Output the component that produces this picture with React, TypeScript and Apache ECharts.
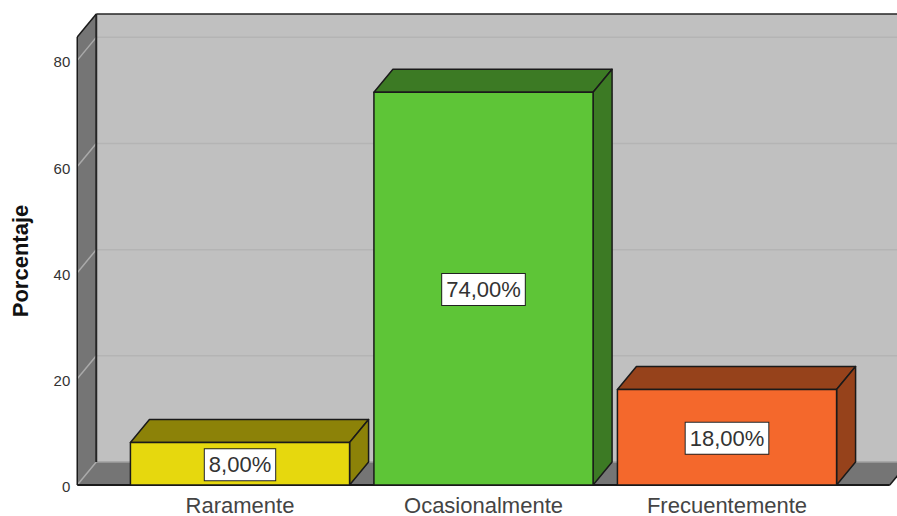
import React, { useEffect, useRef } from "react";
import * as echarts from "echarts";

const categories = ["Raramente", "Ocasionalmente", "Frecuentemente"];
const percentages = [8, 74, 18];
const frontColors = ["#e6d80e", "#5ec537", "#f4682c"];
const sideColors = ["#8c8208", "#3c7a24", "#96421b"];
const yTicks = [0, 20, 40, 60, 80];
const yMax = 84.4;

// Oblique projection offset of the back plane relative to the front plane.
const DEPTH_X = 19;
const DEPTH_Y = -23;
const AXIS_OFFSET = 41;
const FRONT_RIGHT_EXTRA = 41;
const EDGE = "#1a1a1a";

function poly(points: number[][], fill: string, stroke?: string, lineWidth = 1.5) {
  return {
    type: "polygon",
    shape: { points },
    style: { fill, stroke: stroke ?? "none", lineWidth, lineJoin: "round" },
  };
}

function seg(x1: number, y1: number, x2: number, y2: number, stroke: string, lineWidth: number) {
  return { type: "line", shape: { x1, y1, x2, y2 }, style: { stroke, lineWidth } };
}

function renderRoom(params: any, api: any) {
  const cs = params.coordSys;
  const x0 = cs.x - AXIS_OFFSET;
  const x1 = cs.x + cs.width + FRONT_RIGHT_EXTRA;
  const bottom = api.coord([0, 0])[1];
  const top = api.coord([0, yMax])[1];
  const backX0 = x0 + DEPTH_X;
  const backX1 = x1 + DEPTH_X;
  const children: any[] = [
    poly([[backX0, top + DEPTH_Y], [backX1, top + DEPTH_Y], [backX1, bottom + DEPTH_Y], [backX0, bottom + DEPTH_Y]], "#c0c0c0"),
    poly([[x0, top], [backX0, top + DEPTH_Y], [backX0, bottom + DEPTH_Y], [x0, bottom]], "#757575"),
    poly([[x0, bottom], [backX0, bottom + DEPTH_Y], [backX1, bottom + DEPTH_Y], [x1, bottom]], "#757575"),
  ];
  yTicks.forEach((t) => {
    const y = api.coord([0, t])[1];
    children.push(seg(x0, y, backX0, y + DEPTH_Y, "#aaaaaa", 1.5));
    children.push(seg(backX0, y + DEPTH_Y, backX1, y + DEPTH_Y, t === 0 ? "#a0a0a0" : "#b4b4b4", 1.5));
  });
  children.push(seg(backX0, top + DEPTH_Y, backX0, bottom + DEPTH_Y, "#262626", 2));
  children.push(seg(x0, top, backX0, top + DEPTH_Y, EDGE, 1.5));
  children.push(seg(backX0, top + DEPTH_Y, backX1, top + DEPTH_Y, "#262626", 1.5));
  children.push(seg(x0, top, x0, bottom, EDGE, 1.5));
  children.push(seg(x0, bottom, x1, bottom, EDGE, 2));
  children.push(seg(x1, bottom, backX1, bottom + DEPTH_Y, EDGE, 1.5));
  return { type: "group", children };
}

function renderBar(params: any, api: any) {
  const i = params.dataIndex;
  const [cx, yTop] = api.coord([api.value(0), api.value(1)]);
  const yBase = api.coord([api.value(0), 0])[1];
  const half = (api.size([1, 0])[0] * 0.9) / 2;
  const l = cx - half;
  const r = cx + half;
  const label = api.value(1).toFixed(2).replace(".", ",") + "%";
  return {
    type: "group",
    children: [
      poly([[l, yTop], [l + DEPTH_X, yTop + DEPTH_Y], [r + DEPTH_X, yTop + DEPTH_Y], [r, yTop]], sideColors[i], EDGE),
      poly([[r, yTop], [r + DEPTH_X, yTop + DEPTH_Y], [r + DEPTH_X, yBase + DEPTH_Y], [r, yBase]], sideColors[i], EDGE),
      poly([[l, yTop], [r, yTop], [r, yBase], [l, yBase]], frontColors[i], EDGE),
      {
        type: "text",
        x: cx,
        y: (yTop + yBase) / 2 + 1,
        style: {
          text: label,
          font: "22px 'Liberation Sans', Arial, sans-serif",
          fill: "#333333",
          align: "center",
          verticalAlign: "middle",
          backgroundColor: "#ffffff",
          borderColor: "#222222",
          borderWidth: 1,
          padding: [5, 4, 4, 4],
        },
      },
    ],
  };
}

export default function App() {
  const ref = useRef<HTMLDivElement>(null);

  useEffect(() => {
    const chart = echarts.init(ref.current!, undefined, { renderer: "svg" });
    chart.setOption({
      animation: false,
      backgroundColor: "#ffffff",
      grid: { left: 118.25, width: 730.5, top: 37, height: 448, outerBoundsMode: "none" },
      xAxis: {
        type: "category",
        data: categories,
        axisLine: { show: false },
        axisTick: { show: false },
        axisLabel: {
          color: "#444444",
          fontFamily: "Liberation Sans",
          fontSize: 22,
          lineHeight: 18,
          margin: 11,
        },
      },
      yAxis: {
        type: "value",
        min: 0,
        max: yMax,
        interval: 20,
        offset: AXIS_OFFSET,
        splitLine: { show: false },
        axisLine: { show: false },
        axisTick: { show: false },
        axisLabel: {
          color: "#333333",
          fontFamily: "Liberation Sans",
          fontSize: 15,
          margin: 7,
          verticalAlign: "top",
          lineHeight: 3,
          showMaxLabel: false,
        },
        name: "Porcentaje",
        nameLocation: "middle",
        nameRotate: 90,
        nameGap: 46,
        nameTextStyle: {
          color: "#111111",
          fontFamily: "Liberation Sans",
          fontWeight: "bold",
          fontSize: 22,
        },
      },
      series: [
        {
          type: "custom",
          silent: true,
          z: 1,
          clip: false,
          data: [[0, 0]],
          renderItem: renderRoom,
        },
        {
          type: "custom",
          z: 2,
          clip: false,
          encode: { x: 0, y: 1 },
          data: percentages.map((v, i) => [i, v]),
          renderItem: renderBar,
        },
      ],
    });
    return () => chart.dispose();
  }, []);

  return <div ref={ref} style={{ position: "absolute", left: 0, top: 0, width: 897, height: 516 }} />;
}
